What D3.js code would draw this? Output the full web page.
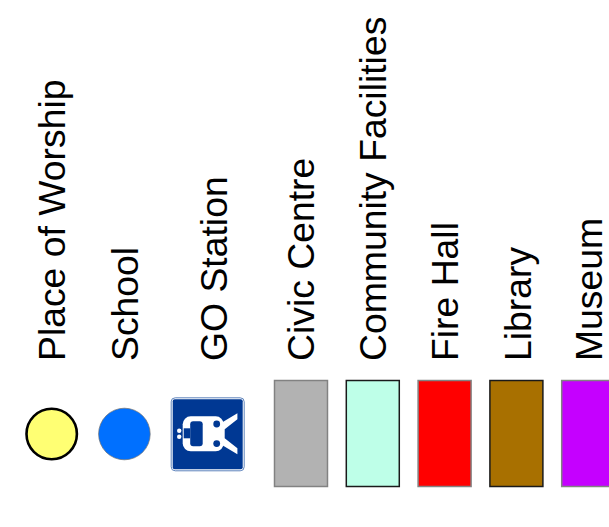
<!DOCTYPE html>
<html>
<head>
<meta charset="utf-8">
<script src="https://cdnjs.cloudflare.com/ajax/libs/d3/7.8.5/d3.min.js"></script>
<style>
html, body { margin: 0; padding: 0; background: #fff; overflow: hidden; }
text { font-family: "Liberation Sans", Arial, sans-serif; font-size: 37.33px; fill: #000; }
</style>
</head>
<body>
<script>
// legend contents, left to right
var markerLabels = ["Place of Worship", "School"];
var markerFills = ["#ffff73", "#0070ff"];
var markerStrokes = ["#000000", "#6e6e6e"];
var signLabel = "GO Station";
var swatchLabels = ["Civic Centre", "Community Facilities", "Fire Hall", "Library", "Museum"];
var swatchFills = ["#b2b2b2", "#beffe8", "#ff0000", "#a87000", "#c500ff"];
var swatchStrokes = ["#828282", "#1a1a1a", "#828282", "#1a1a1a", "#828282"];

var width = 609, height = 527;

var svg = d3.select("body").append("svg")
  .attr("width", width)
  .attr("height", height);

var markerX = d3.scalePoint().domain(markerLabels).range([51.7, 124.4]);
var swatchX = d3.scaleBand().domain(swatchLabels).range([274.5, 274.5 + 71.8 * 4 + 53]).paddingInner(0.262).paddingOuter(0);

var labelY = 361;

// the labels don't sit at quite the same distance from their marks
var nudge = function(d) {
  if (d == "Library") return 2;
  if (d == "School" || d == "Museum") return 1;
  return 0;
};

var rotated = function(x) {
  return "translate(" + x + "," + labelY + ") rotate(-90)";
};

// circles
svg.selectAll("circle.marker")
  .data(markerLabels)
  .enter()
  .append("circle")
  .attr("class", "marker")
  .attr("cx", function(d) { return markerX(d); })
  .attr("cy", 434)
  .attr("r", function(d, i) { return i == 0 ? 25.2 : 25.8; })
  .attr("fill", function(d, i) { return markerFills[i]; })
  .attr("stroke", function(d, i) { return markerStrokes[i]; })
  .attr("stroke-width", function(d, i) { return i == 0 ? 2.6 : 0.7; });

svg.selectAll("text.marker")
  .data(markerLabels)
  .enter()
  .append("text")
  .attr("class", "marker")
  .attr("transform", function(d) { return rotated(markerX(d) + 13 + nudge(d)); })
  .text(function(d) { return d; });

// GO station sign
var sign = svg.append("g").attr("transform", "translate(170.7,397.3)");
sign.append("rect")
  .attr("x", 0.5).attr("y", 0.5)
  .attr("width", 73).attr("height", 73)
  .attr("rx", 4)
  .attr("fill", "#fff")
  .attr("stroke", "#5f84bd")
  .attr("stroke-width", 1);
sign.append("rect")
  .attr("x", 2).attr("y", 2)
  .attr("width", 70).attr("height", 70)
  .attr("rx", 2)
  .attr("fill", "#003893");
// train body
sign.append("rect")
  .attr("x", 12).attr("y", 19)
  .attr("width", 41).attr("height", 35)
  .attr("rx", 8)
  .attr("fill", "#fff");
sign.append("path")
  .attr("d", "M50,26 L66.7,16 L66.7,22 L54,32 L54,41 L66.7,51 L66.7,57 L50,47 Z")
  .attr("fill", "#fff");
sign.append("rect")
  .attr("x", 19.5).attr("y", 24)
  .attr("width", 12.5).attr("height", 25)
  .attr("rx", 3)
  .attr("fill", "#003893");
sign.append("rect")
  .attr("x", 13).attr("y", 31)
  .attr("width", 6.5).attr("height", 10)
  .attr("fill", "#003893");
sign.selectAll("circle.lamp")
  .data([0, 1])
  .enter()
  .append("circle")
  .attr("class", "lamp")
  .attr("cx", 8.5)
  .attr("cy", function(d) { return 33.5 + d * 6; })
  .attr("r", 2.2)
  .attr("fill", "#fff");
sign.selectAll("circle.wheel")
  .data([0, 1])
  .enter()
  .append("circle")
  .attr("class", "wheel")
  .attr("cx", 46)
  .attr("cy", function(d) { return 26.7 + d * 19.6; })
  .attr("r", 3.4)
  .attr("fill", "#003893");

svg.append("text")
  .attr("transform", rotated(227))
  .text(signLabel);

// rectangles
svg.selectAll("rect.swatch")
  .data(swatchLabels)
  .enter()
  .append("rect")
  .attr("class", "swatch")
  .attr("x", function(d) { return swatchX(d); })
  .attr("y", 380.5)
  .attr("width", swatchX.bandwidth())
  .attr("height", 106)
  .attr("fill", function(d, i) { return swatchFills[i]; })
  .attr("stroke", function(d, i) { return swatchStrokes[i]; })
  .attr("stroke-width", 1.5);

svg.selectAll("text.swatch")
  .data(swatchLabels)
  .enter()
  .append("text")
  .attr("class", "swatch")
  .attr("transform", function(d) { return rotated(swatchX(d) + 39.5 + nudge(d)); })
  .text(function(d) { return d; });
</script>
</body>
</html>
